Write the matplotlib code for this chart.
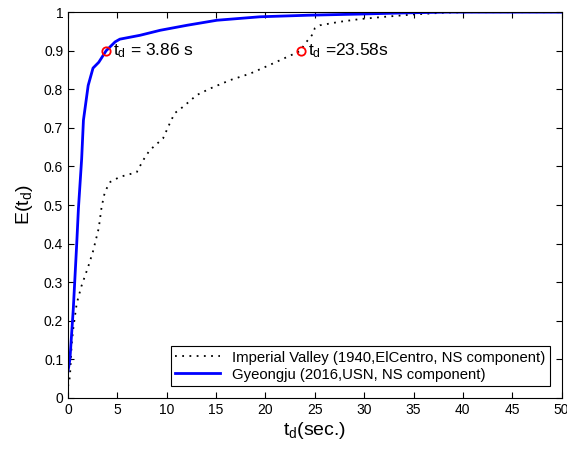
import numpy as np
import matplotlib
matplotlib.use("Agg")
import matplotlib.pyplot as plt

plt.rcParams['font.family'] = ['Liberation Sans', 'DejaVu Sans']
plt.rcParams['mathtext.default'] = 'regular'

# Imperial Valley (1940, El Centro, NS)
iv_t = [0.0, 0.19, 0.37, 0.53, 0.88, 1.36, 2.04, 2.53, 3.11, 3.4, 3.74, 4.28, 5.25,
        6.95, 7.63, 8.27, 9.63, 10.31, 10.8, 11.67, 13.03, 14.39, 16.44, 18.48,
        20.42, 23.58, 23.9, 24.7, 25.0, 25.53, 27.52, 29.57, 32.1, 35.0, 38.3, 41.0,
        50.0]
iv_e = [0.03, 0.055, 0.14, 0.18, 0.245, 0.29, 0.34, 0.38, 0.44, 0.495, 0.535, 0.56,
        0.573, 0.585, 0.617, 0.642, 0.673, 0.712, 0.738, 0.755, 0.785, 0.802, 0.824,
        0.841, 0.863, 0.90, 0.915, 0.94, 0.958, 0.966, 0.975, 0.982, 0.988, 0.994,
        0.999, 1.0, 1.0]

# Gyeongju (2016, USN, NS)
gj_t = [0.0, 0.19, 0.53, 0.88, 1.05, 1.38, 1.56, 1.72, 2.04, 2.53, 3.11, 3.86,
        4.77, 5.25, 7.29, 9.34, 12.06, 15.08, 19.45, 24.3, 29.57, 34.0, 38.3, 50.0]
gj_e = [0.07, 0.10, 0.23, 0.40, 0.49, 0.62, 0.72, 0.75, 0.81, 0.855, 0.87, 0.90,
        0.923, 0.93, 0.94, 0.953, 0.966, 0.979, 0.988, 0.992, 0.995, 0.998, 1.0, 1.0]

td_points = [3.86, 23.58]
td_values = [0.9, 0.9]

fig = plt.figure(figsize=(5.67, 4.5), dpi=100)
ax = fig.add_axes([0.12, 0.1156, 0.8704, 0.8574])

ax.plot(iv_t, iv_e, color='black', linestyle=(0, (1, 3)), linewidth=1.3,
        label='Imperial Valley (1940,ElCentro, NS component)')
ax.plot(gj_t, gj_e, color='blue', linestyle='-', linewidth=2,
        label='Gyeongju (2016,USN, NS component)')
ax.plot(td_points, td_values, 'o', markerfacecolor='none', markeredgecolor='red',
        markersize=6, markeredgewidth=1.3)

ax.text(4.6, 0.9, 't$_d$ = 3.86 s', fontsize=12.5, va='center', ha='left')
ax.text(24.3, 0.9, 't$_d$ =23.58s', fontsize=12.5, va='center', ha='left')

ax.set_xlim(0, 50)
ax.set_ylim(0, 1)
ax.set_xticks(np.arange(0, 51, 5))
ax.set_yticks(np.arange(0, 1.01, 0.1))
ax.set_yticklabels(['0', '0.1', '0.2', '0.3', '0.4', '0.5', '0.6', '0.7', '0.8', '0.9', '1'])
ax.tick_params(direction='in', top=True, right=True, labelsize=10, length=4)

ax.set_xlabel('t$_d$(sec.)', fontsize=14, labelpad=2)
ax.set_ylabel('E(t$_d$)', fontsize=14, labelpad=6)

leg = ax.legend(loc='lower right', fontsize=10.7, fancybox=False, framealpha=1,
                edgecolor='black', handlelength=3.0, borderpad=0.3, labelspacing=0.2,
                borderaxespad=0.8)
leg.get_frame().set_linewidth(0.8)

fig.savefig('out.png', dpi=100)
